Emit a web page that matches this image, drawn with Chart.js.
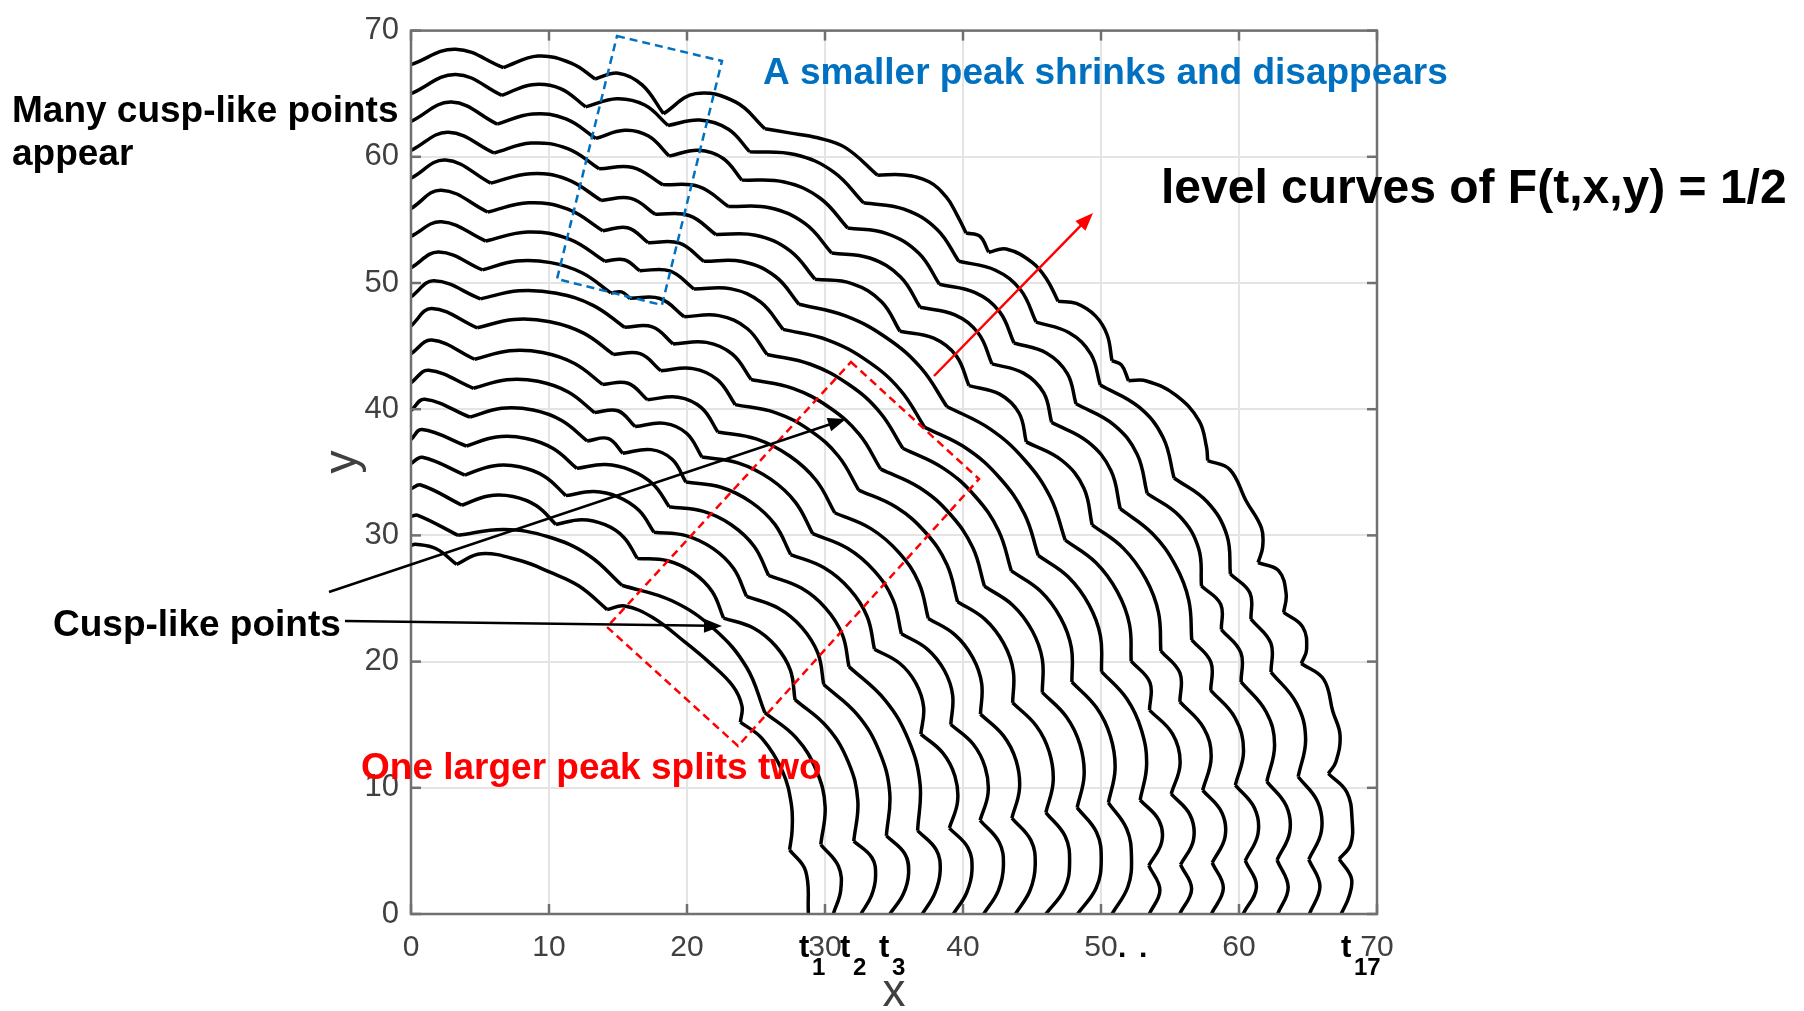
<!DOCTYPE html>
<html>
<head>
<meta charset="utf-8">
<title>level curves</title>
<script src="https://cdn.jsdelivr.net/npm/chart.js@4.4.1/dist/chart.umd.min.js"></script>
<style>
	body { margin: 0; background: #ffffff; }
	#contenedor { width: 1804px; height: 1011px; }
</style>
</head>
<body>
<div id="contenedor"><canvas id="grafica_curvas" width="1804" height="1011"></canvas></div>
<script>
//Marcas de los ejes
const ticks_x = [0, 10, 20, 30, 40, 50, 60, 70];
const ticks_y = [0, 10, 20, 30, 40, 50, 60, 70];

//Curvas de nivel, de la exterior a la interior, leidas en polar desde el origen:
//[angulo en grados, radio] o [angulo, radio, 1] cuando el punto es un pico (cusp)
const curva_01 = [[90,67.3],[87.3,68.6],[84.3,67.4,1],[82.3,68.6],[80.2,68.4],[78.6,67.5,1],[77.3,68.3],[75.7,67.8],[73.9,66.0,1],[72.4,68.2],[69.9,68.5],[67.6,67.3,1],[66.1,67.7],[64.4,68.2],[62.6,68.4],[60.0,67.6,1],[58.6,68.6],[57.1,69.1],[55.7,68.8],[54.5,68.1],[53.3,67.3,1],[52.5,67.7],[51.4,67.1,1],[50.7,68.1],[48.9,68.5],[47.5,68.2],[46.0,67.5,1],[45.1,68.3],[43.7,68.6],[42.3,68.2],[40.8,67.1,1],[40.2,67.4],[39.1,67.0,1],[38.4,68.0],[36.6,69.0],[34.4,69.2],[32.7,68.5],[31.9,68.0,1],[30.7,69.0],[28.4,68.8],[26.4,68.8],[25.2,68.2],[24.4,67.4,1],[23.4,68.5],[21.8,68.3],[20.7,67.6,1],[19.4,68.5],[17.9,68.2],[17.1,67.5,1],[15.7,68.7],[13.5,68.7],[11.9,68.8],[10.2,68.1],[9.5,67.4,1],[8.1,68.5],[6.2,68.6],[4.6,68.3],[3.7,67.4,1],[2.4,68.2],[1.2,68.0],[0,67.4]];
const curva_02 = [[90,65.0],[87.2,66.6],[84.2,65.2,1],[82.4,66.3],[80.6,66.3],[78.8,65.2,1],[77.0,66.3],[75.2,66.3],[73.4,65.2,1],[71.6,66.3],[69.7,66.3],[67.9,65.2,1],[65.2,66.3],[62.5,66.3],[59.8,65.2,1],[57.4,66.3],[54.9,66.3],[52.5,65.2,1],[50.3,66.3],[48.2,66.3],[46.0,65.2,1],[44.0,66.3],[42.0,66.3],[40.0,65.2,1],[37.3,66.3],[34.7,66.3],[32.0,65.2,1],[29.5,66.3],[26.9,66.3],[24.4,65.2,1],[22.7,65.9],[21.0,65.2,1],[19.0,65.9],[17.1,65.2,1],[14.6,66.3],[12.1,66.3],[9.6,65.2,1],[7.7,66.3],[5.7,66.3],[3.8,65.2,1],[1.9,65.9],[0,65.1]];
const curva_03 = [[90,62.8],[87.4,64.4],[84.3,62.9,1],[82.1,64.0],[79.9,64.0],[77.7,62.9,1],[76.0,64.0],[74.4,64.0],[72.7,62.9,1],[71.0,64.0],[69.3,64.0],[67.6,62.9,1],[65.0,64.0],[62.4,64.0],[59.8,62.9,1],[57.4,64.0],[54.9,64.0],[52.5,62.9,1],[50.3,64.0],[48.2,64.0],[46.0,62.9,1],[44.0,64.0],[42.0,64.0],[40.0,62.9,1],[37.3,64.0],[34.7,64.0],[32.0,62.9,1],[29.5,64.0],[26.9,64.0],[24.4,62.9,1],[22.7,63.6],[21.0,62.9,1],[19.0,63.6],[17.0,62.9,1],[14.5,64.0],[12.1,64.0],[9.6,62.9,1],[7.7,64.0],[5.8,64.0],[3.9,62.9,1],[1.9,63.6],[0,62.8]];
const curva_04 = [[90,60.5],[87.5,62.0],[84.3,60.6,1],[81.9,61.7],[79.4,61.7],[77.0,60.6,1],[74.8,61.3],[72.5,60.6,1],[70.1,61.3],[67.7,60.6,1],[65.1,61.7],[62.4,61.7],[59.8,60.6,1],[57.4,61.7],[54.9,61.7],[52.5,60.6,1],[50.3,61.7],[48.2,61.7],[46.0,60.6,1],[44.0,61.7],[42.0,61.7],[40.0,60.6,1],[37.3,61.7],[34.7,61.7],[32.0,60.6,1],[29.3,61.6],[26.5,61.9],[23.8,61.6],[21.0,60.6,1],[19.0,61.3],[17.0,60.6,1],[14.6,61.7],[12.1,61.7],[9.7,60.6,1],[7.8,61.7],[5.9,61.7],[4.0,60.6,1],[2.0,61.3],[0,60.3]];
const curva_05 = [[90,58.3],[87.6,59.8],[84.3,58.2,1],[81.6,59.3],[79.0,59.3],[76.3,58.2,1],[74.3,58.9],[72.3,58.2,1],[70.0,58.9],[67.7,58.2,1],[65.1,59.3],[62.4,59.3],[59.8,58.2,1],[57.4,59.3],[54.9,59.3],[52.5,58.2,1],[50.3,59.3],[48.2,59.3],[46.0,58.2,1],[44.0,59.3],[42.0,59.3],[40.0,58.2,1],[37.3,59.3],[34.7,59.3],[32.0,58.2,1],[29.3,59.2],[26.5,59.5],[23.8,59.2],[21.0,58.2,1],[18.9,58.9],[16.8,58.2,1],[14.4,59.3],[12.1,59.3],[9.7,58.2,1],[7.8,59.3],[5.9,59.3],[4.0,58.2,1],[2.0,58.9],[0,58.0]];
const curva_06 = [[90,55.9],[87.8,57.4],[84.3,55.9,1],[81.4,57.0],[78.5,57.0],[75.6,55.9,1],[73.9,56.6],[72.1,55.9,1],[69.9,56.6],[67.7,55.9,1],[65.1,57.0],[62.4,57.0],[59.8,55.9,1],[56.4,56.9],[52.9,57.2],[49.5,56.9],[46.0,55.9,1],[42.5,56.9],[39.0,57.2],[35.5,56.9],[32.0,55.9,1],[29.3,56.9],[26.5,57.2],[23.8,56.9],[21.0,55.9,1],[18.9,56.6],[16.8,55.9,1],[14.5,57.0],[12.1,57.0],[9.8,55.9,1],[7.9,57.0],[5.9,57.0],[4.0,55.9,1],[2.0,56.6],[0,55.7]];
const curva_07 = [[90,53.7],[87.7,54.9],[84.2,53.6,1],[81.1,54.7],[77.9,54.7],[74.8,53.6,1],[73.4,54.1],[72.0,53.6,1],[69.8,54.3],[67.5,53.6,1],[64.9,54.7],[62.4,54.7],[59.8,53.6,1],[56.4,54.6],[52.9,54.9],[49.5,54.6],[46.0,53.6,1],[42.5,54.6],[39.0,54.9],[35.5,54.6],[32.0,53.6,1],[29.3,54.6],[26.5,54.9],[23.8,54.6],[21.0,53.6,1],[18.2,54.6],[15.4,54.9],[12.5,54.6],[9.7,53.6,1],[7.8,54.7],[6.0,54.7],[4.1,53.6,1],[2.0,54.3],[0,53.5]];
const curva_08 = [[90,51.2],[87.8,52.5],[84.2,51.3,1],[81.6,52.3],[78.9,52.6],[76.3,52.3],[73.6,51.3,1],[72.8,51.6],[72.0,51.3,1],[69.7,52.0],[67.3,51.3,1],[64.8,52.4],[62.3,52.4],[59.8,51.3,1],[56.4,52.3],[52.9,52.6],[49.5,52.3],[46.0,51.3,1],[42.5,52.3],[39.0,52.6],[35.5,52.3],[32.0,51.3,1],[29.3,52.3],[26.5,52.6],[23.8,52.3],[21.0,51.3,1],[18.2,52.3],[15.5,52.6],[12.7,52.3],[9.9,51.3,1],[7.4,52.3],[4.9,52.4],[2.4,52.0],[0,50.8]];
const curva_09 = [[90,48.9],[88.1,50.2],[84.1,49.0,1],[81.0,50.0],[77.9,50.3],[74.7,50.0],[71.6,49.0,1],[69.4,49.7],[67.2,49.0,1],[64.7,50.1],[62.3,50.1],[59.8,49.0,1],[56.4,50.0],[52.9,50.3],[49.5,50.0],[46.0,49.0,1],[42.5,50.0],[39.0,50.3],[35.5,50.0],[32.0,49.0,1],[29.3,50.0],[26.5,50.3],[23.8,50.0],[21.0,49.0,1],[18.2,50.0],[15.5,50.3],[12.7,50.0],[9.9,49.0,1],[7.4,50.1],[4.9,50.2],[2.4,49.7],[0,48.3]];
const curva_10 = [[90,46.6],[88.2,48.0],[84.1,46.7,1],[81.0,47.7],[77.9,48.0],[74.8,47.7],[71.7,46.7,1],[69.5,47.4],[67.2,46.7,1],[64.7,47.8],[62.3,47.8],[59.8,46.7,1],[56.4,47.7],[52.9,48.0],[49.5,47.7],[46.0,46.7,1],[42.5,47.7],[39.0,48.0],[35.5,47.7],[32.0,46.7,1],[29.3,47.7],[26.5,48.0],[23.8,47.7],[21.0,46.7,1],[18.2,47.7],[15.5,48.0],[12.7,47.7],[9.9,46.7,1],[7.4,47.8],[4.9,47.9],[2.4,47.4],[0,46.0]];
const curva_11 = [[90,44.4],[88.1,45.5],[84.0,44.2,1],[80.9,45.2],[77.9,45.5],[74.8,45.2],[71.7,44.2,1],[69.5,44.9],[67.2,44.2,1],[64.7,45.3],[62.3,45.3],[59.8,44.2,1],[56.4,45.2],[52.9,45.5],[49.5,45.2],[46.0,44.2,1],[42.5,45.2],[39.0,45.5],[35.5,45.2],[32.0,44.2,1],[29.3,45.2],[26.5,45.5],[23.8,45.2],[21.0,44.2,1],[18.2,45.2],[15.5,45.5],[12.7,45.2],[9.9,44.2,1],[7.4,45.3],[4.9,45.4],[2.4,44.9],[0,43.8]];
const curva_12 = [[90,42.1],[88.3,43.1],[83.8,41.9,1],[80.7,42.9],[77.7,43.2],[74.6,42.9],[71.5,41.9,1],[69.4,42.6],[67.2,41.9,1],[64.7,43.0],[62.3,43.0],[59.8,41.9,1],[56.4,42.9],[52.9,43.2],[49.5,42.9],[46.0,41.9,1],[42.5,42.9],[39.0,43.2],[35.5,42.9],[32.0,41.9,1],[29.3,42.9],[26.5,43.2],[23.8,42.9],[21.0,41.9,1],[18.3,42.9],[15.6,43.2],[12.9,42.9],[10.2,41.9,1],[7.6,43.0],[5.1,43.1],[2.5,42.6],[0,41.5]];
const curva_13 = [[90,39.9],[88.6,40.8],[83.8,39.6,1],[80.7,40.6],[77.5,40.9],[74.4,40.6],[71.2,39.6,1],[69.2,40.3],[67.2,39.6,1],[64.7,40.7],[62.3,40.7],[59.8,39.6,1],[56.4,40.6],[52.9,40.9],[49.5,40.6],[46.0,39.6,1],[42.5,40.6],[39.0,40.9],[35.5,40.6],[32.0,39.6,1],[29.3,40.6],[26.6,40.9],[23.8,40.6],[21.1,39.6,1],[18.3,40.6],[15.5,40.9],[12.7,40.6],[9.9,39.6,1],[7.4,40.7],[4.9,40.8],[2.4,40.3],[0,39.3]];
const curva_14 = [[90,37.6],[88.8,38.4],[83.8,37.3,1],[80.7,38.3],[77.5,38.6],[74.4,38.3],[71.2,37.3,1],[68.4,38.3],[65.6,38.6],[62.7,38.3],[59.9,37.3,1],[56.4,38.3],[53.0,38.6],[49.5,38.3],[46.0,37.3,1],[42.4,38.3],[38.9,38.6],[35.3,38.3],[31.7,37.3,1],[26.3,38.3],[21.0,38.6],[15.6,38.3],[10.2,37.3,1],[7.6,38.4],[5.1,38.5],[2.5,38.0],[0,37.05]];
const curva_15 = [[90,35.7],[88.7,36.2],[83.6,35.0,1],[80.5,36.0],[77.5,36.3],[74.4,36.0],[71.3,35.0,1],[68.4,36.0],[65.6,36.3],[62.7,36.0],[59.8,35.0,1],[56.4,36.0],[52.9,36.3],[49.5,36.0],[46.0,35.0,1],[42.3,36.0],[38.7,36.3],[35.0,36.0],[31.3,35.0,1],[26.0,36.0],[20.8,36.3],[15.5,36.0],[10.2,35.0,1],[7.6,36.1],[5.1,36.2],[2.5,35.7],[0,34.7]];
const curva_16 = [[90,33.7],[88.8,34.0],[83.5,32.6,1],[80.4,33.6],[77.4,33.9],[74.3,33.6],[71.2,32.6,1],[68.4,33.6],[65.5,33.9],[62.7,33.6],[59.8,32.6,1],[56.4,33.6],[52.9,33.9],[49.5,33.6],[46.0,32.6,1],[42.4,33.6],[38.7,33.9],[35.1,33.6],[31.4,32.6,1],[26.1,33.6],[20.8,33.9],[15.5,33.6],[10.2,32.6,1],[7.6,33.7],[5.1,33.8],[2.5,33.4],[0,32.6]];
const curva_17 = [[90,31.5],[89.1,31.6],[83.5,30.2,1],[77.5,31.2],[71.6,31.5],[65.6,31.2],[59.6,30.2,1],[52.7,31.2],[45.8,31.5],[38.8,31.2],[31.9,30.2,1],[26.6,31.2],[21.2,31.5],[15.9,31.2],[10.5,30.2,1],[7.0,31.2],[3.5,31.2],[0,30.6]];
const curva_18 = [[90,29.2],[89.4,29.3],[86.4,29.0],[83.2,27.9,1],[79.9,29.0],[74.1,29.1],[69.7,28.9],[64.9,28.7],[59.5,28.0,1],[57.6,28.9],[53.3,29.3],[47.2,29.3],[42.7,29.4],[37.8,29.5],[34.5,29.1],[32.5,28.3,1],[28.6,29.0],[22.8,29.2],[17.5,28.9],[13.5,28.4],[10.5,27.9,1],[6.8,28.8],[0,28.8]];

const curvas = [curva_01, curva_02, curva_03, curva_04, curva_05, curva_06, curva_07, curva_08, curva_09,
	curva_10, curva_11, curva_12, curva_13, curva_14, curva_15, curva_16, curva_17, curva_18];

//Pasa los puntos polares a {x, y} de chart.js, cortando la linea en cada pico
function a_datos(puntos)
{
	const datos = [];
	puntos.forEach(function(p, i) {
		const ang = p[0] * Math.PI / 180;
		const x = p[1] * Math.cos(ang);
		const y = p[1] * Math.sin(ang);
		datos.push({x: x, y: y});
		if (p[2] && i < puntos.length - 1) {
			datos.push({x: x, y: null});
			datos.push({x: x, y: y});
		}
	});
	return datos;
}

function linea(ctx, x1, y1, x2, y2)
{
	ctx.beginPath();
	ctx.moveTo(x1, y1);
	ctx.lineTo(x2, y2);
	ctx.stroke();
}

function flecha(ctx, x1, y1, x2, y2, color)
{
	const ang = Math.atan2(y2 - y1, x2 - x1);
	ctx.strokeStyle = color;
	ctx.fillStyle = color;
	ctx.lineWidth = 2.5;
	linea(ctx, x1, y1, x2 - 12 * Math.cos(ang), y2 - 12 * Math.sin(ang));
	ctx.beginPath();
	ctx.moveTo(x2, y2);
	ctx.lineTo(x2 - 18 * Math.cos(ang) + 7 * Math.sin(ang), y2 - 18 * Math.sin(ang) - 7 * Math.cos(ang));
	ctx.lineTo(x2 - 18 * Math.cos(ang) - 7 * Math.sin(ang), y2 - 18 * Math.sin(ang) + 7 * Math.cos(ang));
	ctx.closePath();
	ctx.fill();
}

function caja_punteada(ctx, esquinas, color)
{
	ctx.strokeStyle = color;
	ctx.lineWidth = 2.5;
	ctx.setLineDash([8, 5]);
	ctx.beginPath();
	ctx.moveTo(esquinas[0][0], esquinas[0][1]);
	for (let i = 1; i < esquinas.length; i++) ctx.lineTo(esquinas[i][0], esquinas[i][1]);
	ctx.closePath();
	ctx.stroke();
	ctx.setLineDash([]);
}

const anotaciones = {
	id: 'anotaciones',
	afterDraw(chart) {
		const ctx = chart.ctx;
		const a = chart.chartArea;
		const sx = chart.scales.x;
		const sy = chart.scales.y;
		ctx.save();

		//caja de los ejes y marcas hacia dentro
		ctx.strokeStyle = '#707070';
		ctx.lineWidth = 2.5;
		ctx.strokeRect(a.left, a.top, a.right - a.left, a.bottom - a.top);
		ticks_x.forEach(function(v) {
			const px = sx.getPixelForValue(v);
			linea(ctx, px, a.bottom, px, a.bottom - 10);
			linea(ctx, px, a.top, px, a.top + 10);
		});
		ticks_y.forEach(function(v) {
			const py = sy.getPixelForValue(v);
			linea(ctx, a.left, py, a.left + 10, py);
			linea(ctx, a.right, py, a.right - 10, py);
		});

		//titulos de los ejes
		ctx.fillStyle = '#404040';
		ctx.font = '46px "Liberation Sans", Arial, sans-serif';
		ctx.textAlign = 'center';
		ctx.fillText('x', (a.left + a.right) / 2, 1006);
		ctx.save();
		ctx.translate(356, 462);
		ctx.rotate(-Math.PI / 2);
		ctx.fillText('y', 0, 0);
		ctx.restore();

		//etiquetas t1, t2, t3 ... t17
		ctx.fillStyle = '#000000';
		ctx.textAlign = 'left';
		const etiquetas_t = [['1', 799], ['2', 840], ['3', 879], ['17', 1341]];
		etiquetas_t.forEach(function(e) {
			ctx.font = 'bold 31px "Liberation Sans", Arial, sans-serif';
			ctx.fillText('t', e[1], 957);
			ctx.font = 'bold 24px "Liberation Sans", Arial, sans-serif';
			ctx.fillText(e[0], e[1] + 13, 975);
		});
		ctx.font = 'bold 30px "Liberation Sans", Arial, sans-serif';
		ctx.fillText('.', 1118, 957);
		ctx.fillText('.', 1139, 957);

		//cajas punteadas
		caja_punteada(ctx, [[617, 36], [722, 61], [662, 305], [557, 279]], '#0070C0');
		caja_punteada(ctx, [[851, 362], [979, 479], [738, 746], [607, 627]], '#FF0000');

		//flechas
		flecha(ctx, 934, 376, 1093, 213, '#FF0000');
		flecha(ctx, 329, 592, 846, 419, '#000000');
		flecha(ctx, 345, 621, 722, 626, '#000000');

		//textos
		ctx.textAlign = 'left';
		ctx.fillStyle = '#000000';
		ctx.font = 'bold 37px "Liberation Sans", Arial, sans-serif';
		ctx.fillText('Many cusp-like points', 12, 122);
		ctx.fillText('appear', 12, 165);
		ctx.fillText('Cusp-like points', 53, 636);
		ctx.fillStyle = '#0070C0';
		ctx.fillText('A smaller peak shrinks and disappears', 763, 84);
		ctx.fillStyle = '#FF0000';
		ctx.fillText('One larger peak splits two', 361, 779);
		ctx.fillStyle = '#000000';
		ctx.font = 'bold 48px "Liberation Sans", Arial, sans-serif';
		ctx.fillText('level curves of F(t,x,y) = 1/2', 1161, 203);
		ctx.restore();
	}
};

function crear_grafica()
{
	const lienzo = document.getElementById('grafica_curvas');
	const conjuntos = curvas.map(function(c) {
		return {
			data: a_datos(c),
			showLine: true,
			borderColor: '#000000',
			borderWidth: 3.5,
			pointRadius: 0,
			tension: 0.4,
			spanGaps: false,
			fill: false
		};
	});
	new Chart(lienzo, {
		type: 'scatter',
		data: { datasets: conjuntos },
		options: {
			responsive: false,
			animation: false,
			devicePixelRatio: 1,
			layout: { padding: { left: 0, right: 427, top: 20, bottom: 0 } },
			plugins: { legend: { display: false }, tooltip: { enabled: false } },
			scales: {
				x: {
					type: 'linear', min: 0, max: 70,
					afterFit: function(s) { s.height = 97; },
					afterBuildTicks: function(s) { s.ticks = ticks_x.map(function(v) { return { value: v }; }); },
					ticks: { font: { family: 'Liberation Sans', size: 30 }, color: '#404040', padding: 16, maxRotation: 0 },
					grid: { color: '#e4e4e4', lineWidth: 2, drawTicks: false },
					border: { display: false }
				},
				y: {
					type: 'linear', min: 0, max: 70,
					afterFit: function(s) { s.width = 411; },
					afterBuildTicks: function(s) { s.ticks = ticks_y.map(function(v) { return { value: v }; }); },
					ticks: { font: { family: 'Liberation Sans', size: 31 }, color: '#404040', padding: 12 },
					grid: { color: '#e4e4e4', lineWidth: 2, drawTicks: false },
					border: { display: false }
				}
			}
		},
		plugins: [anotaciones]
	});
}
crear_grafica();
</script>
</body>
</html>
